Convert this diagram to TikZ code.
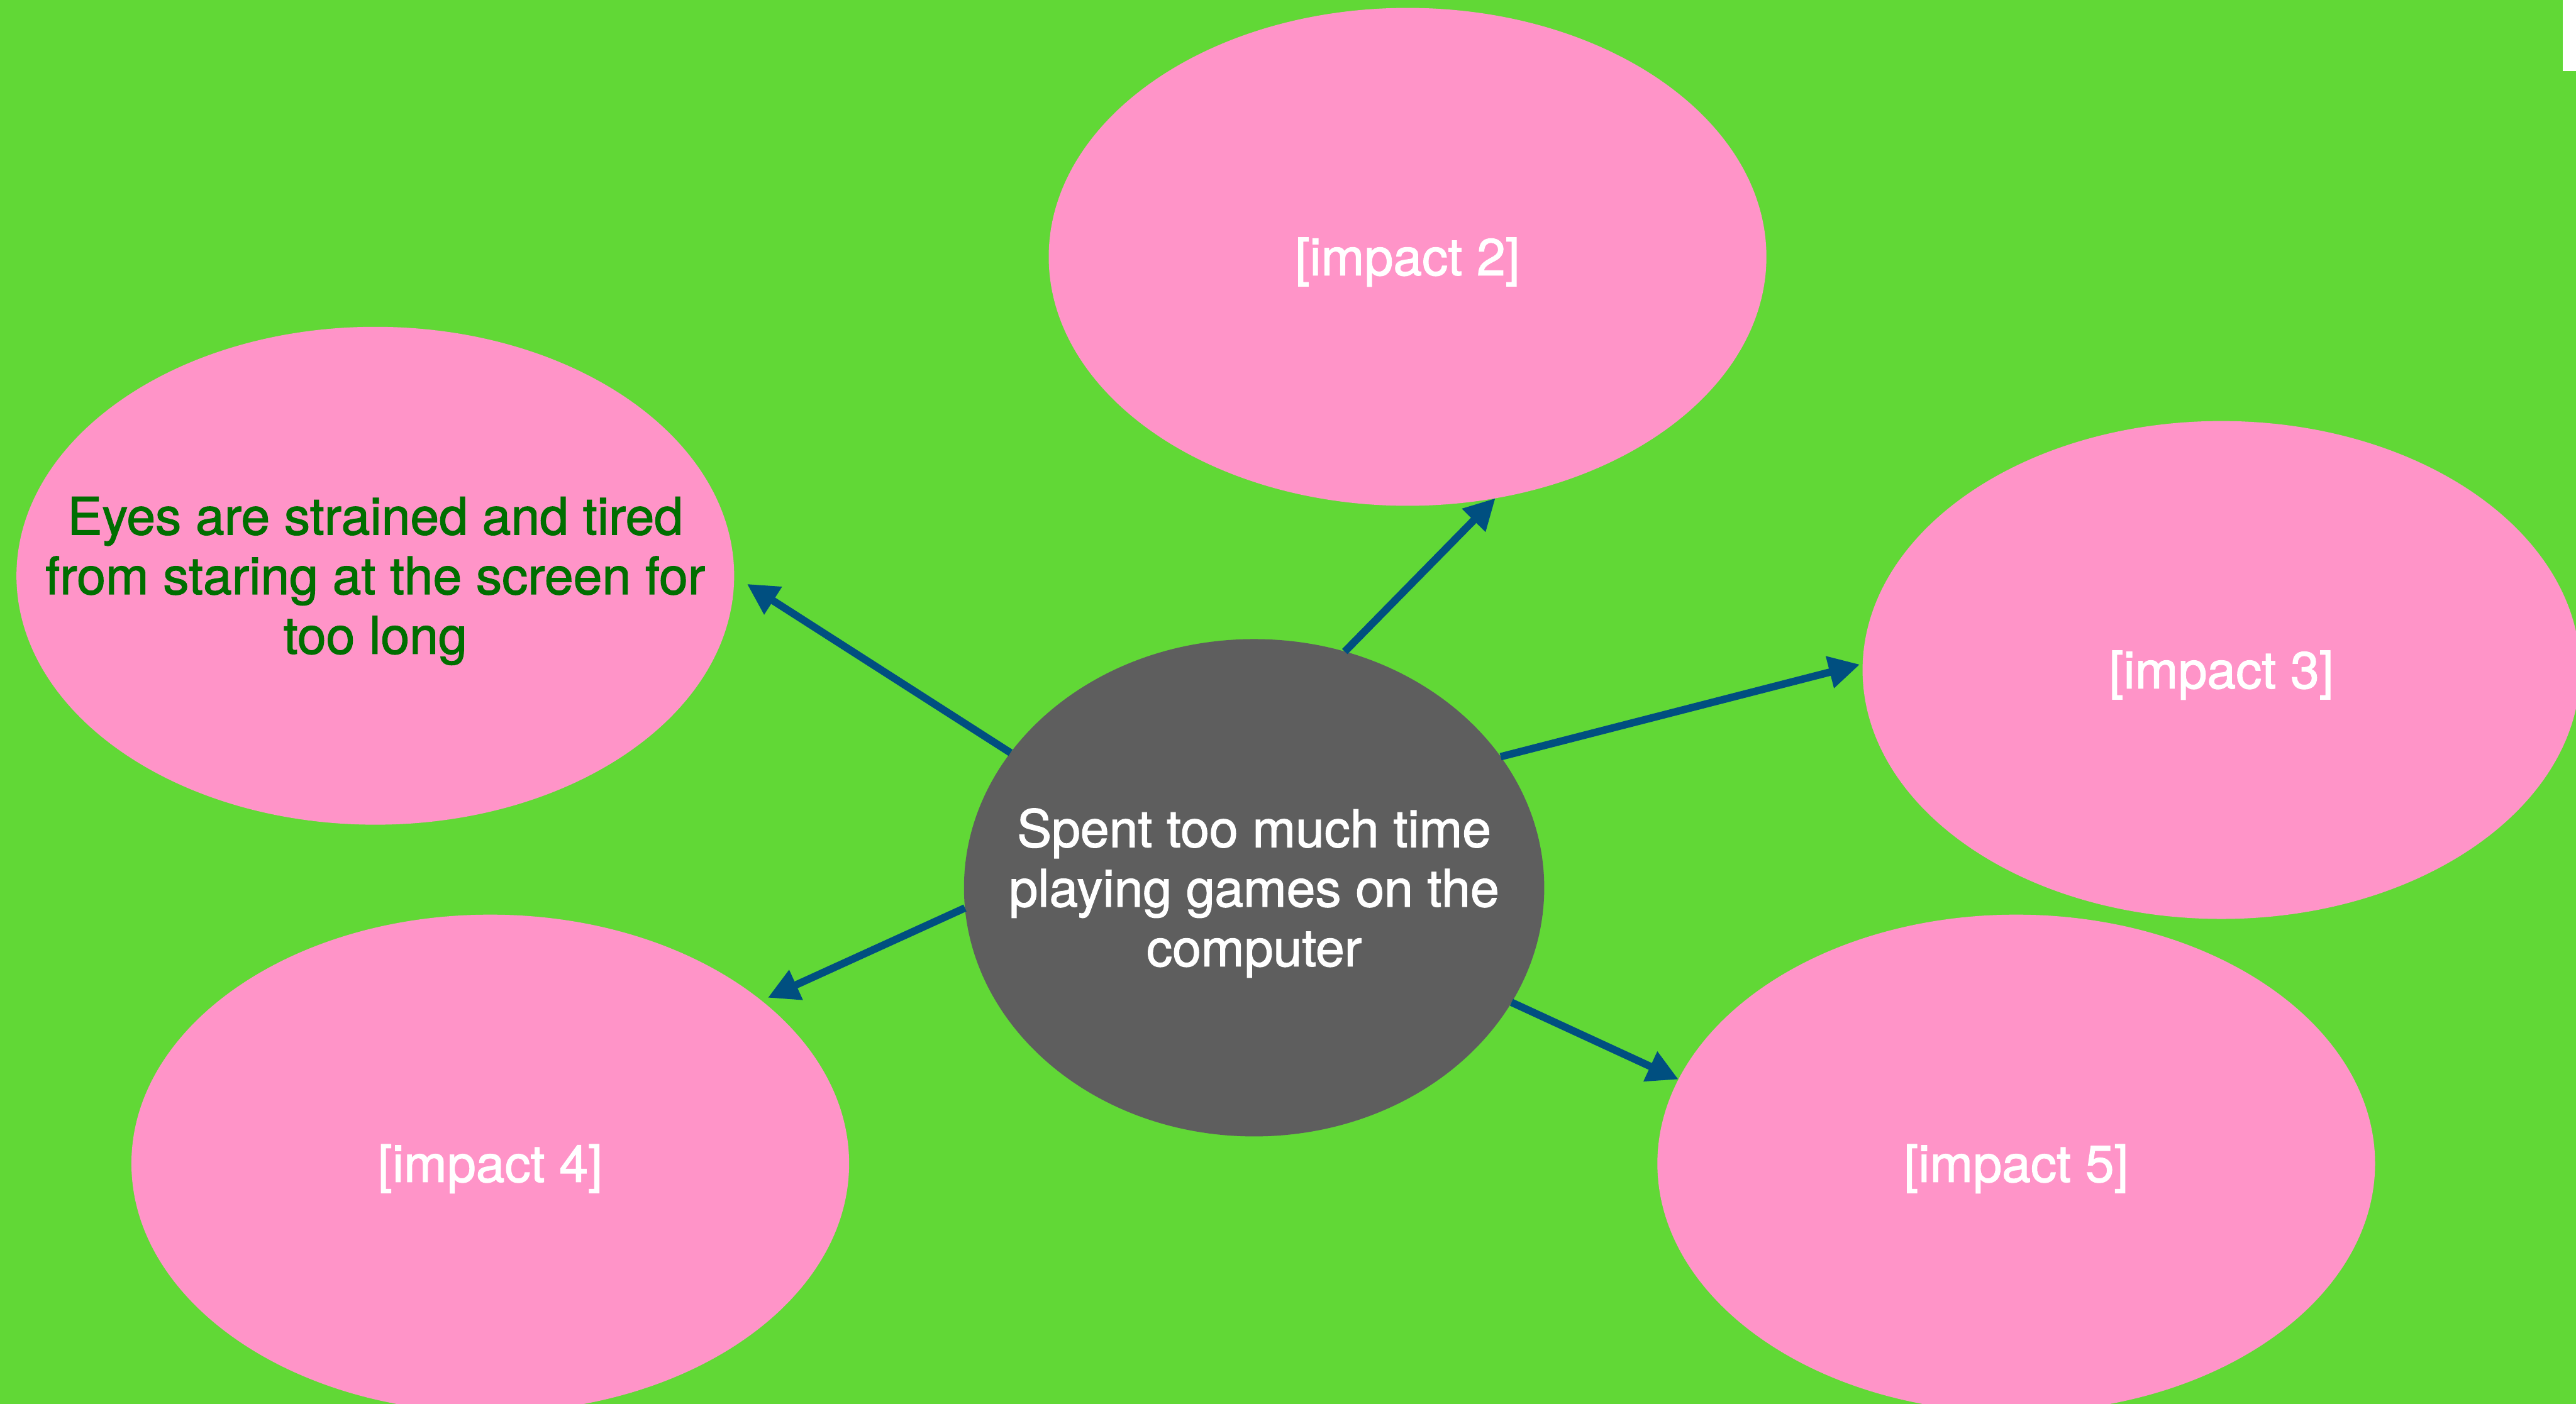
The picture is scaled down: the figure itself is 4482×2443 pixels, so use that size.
\documentclass[tikz,border=0pt]{standalone}
\usepackage{fontspec}
\setmainfont{TeX Gyre Heros}
\newfontfamily\medfont[FakeBold=1.5]{TeX Gyre Heros}
\usetikzlibrary{shapes.geometric,arrows.meta}
\definecolor{bggreen}{HTML}{61D836}
\definecolor{pinkfill}{HTML}{FF94C8}
\definecolor{hubgrey}{HTML}{5E5E5E}
\definecolor{arrowblue}{HTML}{004F80}
\definecolor{textgreen}{HTML}{006E00}
\begin{document}
\begin{tikzpicture}[x=0.01cm,y=-0.01cm,
  impact/.style={ellipse, fill=pinkfill, minimum width=12.48cm, minimum height=8.66cm, inner sep=0pt, outer sep=0pt},
  hub/.style={ellipse, fill=hubgrey, minimum width=10.09cm, minimum height=8.65cm, inner sep=0pt, outer sep=0pt},
  lbl/.style={font=\medfont\fontsize{25.6}{29.5}\selectfont, align=center, inner sep=0pt, text=white},
  link/.style={draw=arrowblue, line width=0.13cm, -{Triangle[length=0.54cm,width=0.54cm]}}
]
\useasboundingbox (0,0) rectangle (4482,2443);
\clip (0,0) rectangle (4482,2443);
\fill[bggreen] (0,0) rectangle (4482,2443);
\fill[white] (4459,0) rectangle (4482,124);

\node[impact] (i2) at (2449,447) {};
\node[impact] (eyes) at (653,1002) {};
\node[impact] (i3) at (3865,1166) {};
\node[impact] (i4) at (853,2025) {};
\node[impact] (i5) at (3508,2025) {};
\node[hub] (hub) at (2182,1545) {};

\node[lbl] (t2) at ([yshift=-0.09cm]i2.center) {[impact 2]};
\node[lbl, text=textgreen] (teyes) at ([yshift=-0.09cm]eyes.center) {Eyes are strained and tired\\from staring at the screen for\\too long};
\node[lbl] (t3) at ([yshift=-0.09cm]i3.center) {[impact 3]};
\node[lbl] (t4) at ([yshift=-0.09cm]i4.center) {[impact 4]};
\node[lbl] (t5) at ([yshift=-0.09cm]i5.center) {[impact 5]};
\node[lbl] (thub) at ([yshift=-0.09cm]hub.center) {Spent too much time\\playing games on the\\computer};

\draw[link, shorten >=0.265cm] (hub.151.6) -- (eyes.0.8);
\draw[link] (hub.69.2) -- (i2.290.1);
\draw[link, shorten >=0.05cm] (hub.28.6) -- (i3.179.45);
\draw[link, shorten >=0.12cm] (hub.184.7) -- (i4.31.1);
\draw[link] (hub.336.3) -- (i5.166.8);
\end{tikzpicture}
\end{document}
